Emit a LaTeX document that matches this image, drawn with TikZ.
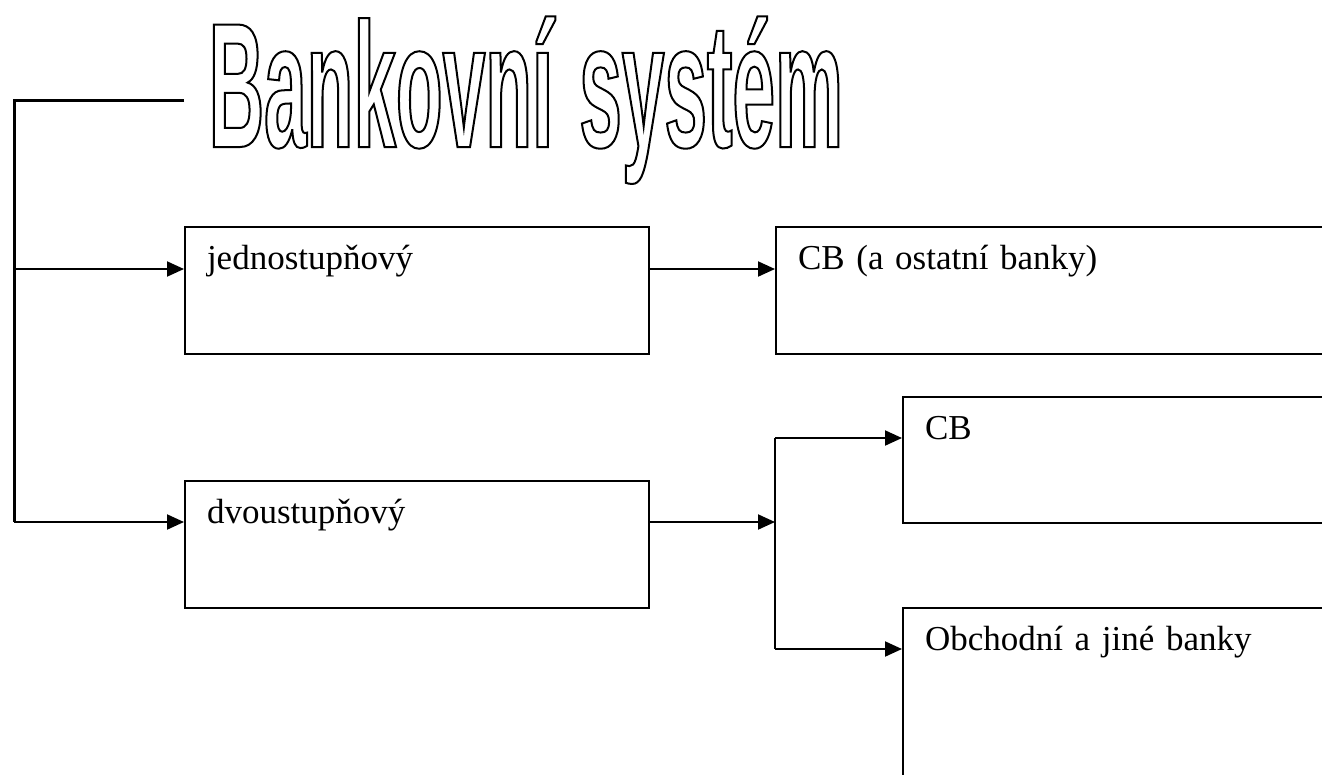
\documentclass[tikz,border=0pt]{standalone}
\usepackage{fontspec}
\setmainfont{Liberation Serif}
\newfontfamily\titlefont[FakeStretch=0.43]{Liberation Sans Bold}
\usetikzlibrary{arrows.meta,positioning,calc}
\newcommand\outlined[1]{\special{pdf:literal direct 1 Tr 2 w}#1\special{pdf:literal direct 0 Tr}}
\tikzset{
  bankbox/.style={draw,line width=2pt,anchor=north west,inner xsep=22pt,inner ysep=0pt,
    text height=42pt,text depth=85pt,align=left,font=\fontsize{35}{40}\selectfont},
  >={Triangle[length=17pt,width=15pt]}
}

\begin{document}
\begin{tikzpicture}[x=1pt,y=-1pt]
\clip (0,0) rectangle (1322,774);
\node (T) at (526,147) [anchor=base,inner sep=0pt]
  {\titlefont\fontsize{178}{178}\selectfont\outlined{Bankovní\hspace{26pt}systém}};
\node (J) at (184,226) [bankbox,text width=420pt] {jednostupňový};
\node (D) at (184,480) [bankbox,text width=420pt] {dvoustupňový};
\node (CO) at (775,226) [bankbox,text width=600pt] {CB (a ostatní banky)};
\node (CB) at (902,396) [bankbox,text width=500pt,text depth=84pt] {CB};
\node (OB) at (902,607) [bankbox,text width=500pt,text depth=200pt] {Obchodní a jiné banky};
\coordinate (S) at (184,100);
\coordinate (S0) at (14,100);
\coordinate (S1) at (14,269);
\coordinate (S2) at (14,522);
\coordinate (M) at (775,522);
\coordinate (M1) at (775,438);
\coordinate (M2) at (775,649);
\draw[line width=3pt] (S) -- (S0) -- (S2);
\draw[line width=2pt] (M1) -- (M2);
\path[->,line width=2pt]
(S1) edge (S1 -| J.west)
(S2) edge (S2 -| D.west)
(S1 -| J.east) edge (S1 -| CO.west)
(S2 -| D.east) edge (M)
(M1) edge (M1 -| CB.west)
(M2) edge (M2 -| OB.west);
\end{tikzpicture}
\end{document}
